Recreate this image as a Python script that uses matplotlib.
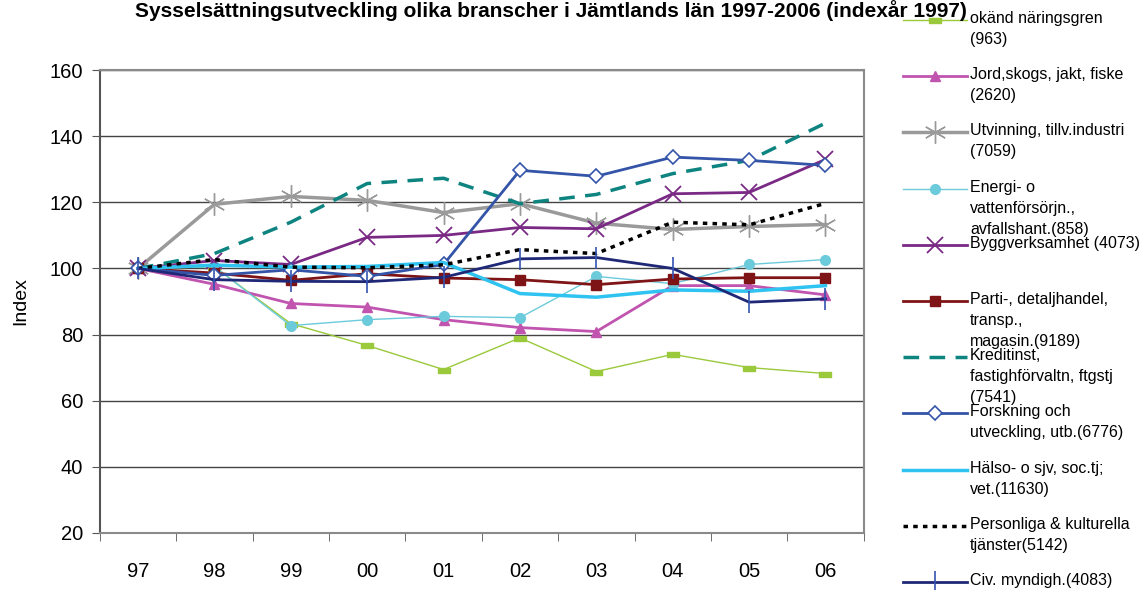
import matplotlib
matplotlib.use("Agg")
import matplotlib.pyplot as plt
from matplotlib.lines import Line2D

plt.rcParams['font.family'] = ['Liberation Sans', 'DejaVu Sans']

# ----- data -----
years = ["97", "98", "99", "00", "01", "02", "03", "04", "05", "06"]

okand = [100, 100.5, 83.3, 76.7, 69.4, 79.0, 68.8, 74.0, 70.0, 68.2]
jord = [100, 95.2, 89.4, 88.3, 84.5, 82.1, 80.9, 94.8, 94.8, 92.0]
utvinning = [100, 119.4, 121.8, 120.6, 116.9, 119.6, 113.7, 111.8, 112.7, 113.3]
energi = [100, 100.6, 82.7, 84.5, 85.5, 85.1, 97.6, 95.4, 101.2, 102.7]
bygg = [100, 102.4, 101.2, 109.4, 110.0, 112.4, 112.0, 122.6, 123.0, 133.0]
parti = [100, 98.6, 96.4, 98.4, 97.1, 96.6, 95.1, 96.8, 97.2, 97.2]
kredit = [100, 104.5, 114.0, 125.7, 127.3, 119.6, 122.4, 128.7, 132.7, 144.0]
forskning = [100, 97.9, 99.6, 97.6, 101.2, 129.7, 127.9, 133.7, 132.7, 131.2]
halso = [100, 101.0, 100.4, 100.6, 101.8, 92.4, 91.3, 93.5, 93.1, 94.8]
personliga = [100, 102.7, 100.4, 100.2, 101.1, 105.7, 104.5, 114.0, 113.2, 119.7]
civ = [100, 96.6, 96.1, 96.0, 97.3, 102.9, 103.3, 100.0, 89.8, 90.8]

labels = [
    "okänd näringsgren\n(963)",
    "Jord,skogs, jakt, fiske\n(2620)",
    "Utvinning, tillv.industri\n(7059)",
    "Energi- o\nvattenförsörjn.,\navfallshant.(858)",
    "Byggverksamhet (4073)",
    "Parti-, detaljhandel,\ntransp.,\nmagasin.(9189)",
    "Kreditinst,\nfastighförvaltn, ftgstj\n(7541)",
    "Forskning och\nutveckling, utb.(6776)",
    "Hälso- o sjv, soc.tj;\nvet.(11630)",
    "Personliga & kulturella\ntjänster(5142)",
    "Civ. myndigh.(4083)",
]

rect = [(-1, -0.4), (1, -0.4), (1, 0.4), (-1, 0.4), (-1, -0.4)]

styles = [
    dict(color="#9AC93C", lw=1.0, marker=rect, ms=9, mec="#9AC93C", mfc="#9AC93C"),
    dict(color="#C054AE", lw=2.0, marker="^", ms=7, mec="#C054AE", mfc="#C054AE"),
    dict(color="#9A9A9A", lw=2.5, marker=(6, 2, 0), ms=16, mew=1.0, mec="#9A9A9A"),
    dict(color="#6CCBDB", lw=1.0, marker="o", ms=7, mec="#6CCBDB", mfc="#6CCBDB"),
    dict(color="#7A2A85", lw=2.0, marker="x", ms=11, mew=1.3, mec="#7A2A85"),
    dict(color="#7F1416", lw=2.0, marker="s", ms=7, mec="#7F1416", mfc="#7F1416"),
    dict(color="#0E8481", lw=2.5, ls=(0, (4.5, 3))),
    dict(color="#3454A8", lw=2.0, marker="D", ms=7, mec="#3454A8", mfc="white", mew=1.2),
    dict(color="#2EC3F0", lw=2.5),
    dict(color="black", lw=2.5, ls=(0, (1.3, 1.5))),
    dict(color="#1F2877", lw=2.0, marker="|", ms=16, mew=1.2, mec="#3454B0"),
]

series = [okand, jord, utvinning, energi, bygg, parti, kredit, forskning,
          halso, personliga, civ]

fig = plt.figure(figsize=(11.47, 5.90), dpi=100)
ax = fig.add_axes([0.087, 0.097, 0.666, 0.784])

x = list(range(len(years)))
for vals, st in zip(series, styles):
    ax.plot(x, vals, **st)

ax.set_ylim(20, 160)
ax.set_xlim(-0.5, 9.5)
ax.set_yticks(range(20, 161, 20))
ax.set_xticks(x)
ax.set_xticklabels(years)
ax.set_xticks([i - 0.5 for i in range(11)], minor=True)
ax.tick_params(axis="x", which="major", length=0, pad=21, labelsize=14.5)
ax.tick_params(axis="x", which="minor", length=6, color="#555555", direction="out")
ax.tick_params(axis="y", length=6, color="#555555", labelsize=14.5, pad=6)
ax.grid(axis="y", color="#444444", lw=1.0)
ax.set_axisbelow(True)
for side in ["top", "right", "bottom"]:
    ax.spines[side].set_color("#8A8A8A")
    ax.spines[side].set_linewidth(1.5)
ax.spines["left"].set_color("#555555")
ax.spines["left"].set_linewidth(1.5)
ax.set_ylabel("Index", fontsize=14, labelpad=15)

fig.text(967 / 1147, 1 - 17 / 590, "Sysselsättningsutveckling olika branscher i Jämtlands län 1997-2006 (indexår 1997)",
         ha="right", va="baseline", fontsize=15, fontweight="bold")

# legend drawn at the right
W, H = 1147, 590
x0, x1 = 903 / W, 967 / W
for i, (lab, st) in enumerate(zip(labels, styles)):
    yy = 1 - (20 + i * 56.2) / H
    kw = {k: v for k, v in st.items()}
    fig.add_artist(Line2D([x0, (x0 + x1) / 2, x1], [yy, yy, yy], transform=fig.transFigure,
                          markevery=[1], **kw))
    fig.text(970 / W, yy + 9 / H, lab, ha="left", va="top", fontsize=11.5, linespacing=1.5)

fig.savefig("out.png", dpi=100)
